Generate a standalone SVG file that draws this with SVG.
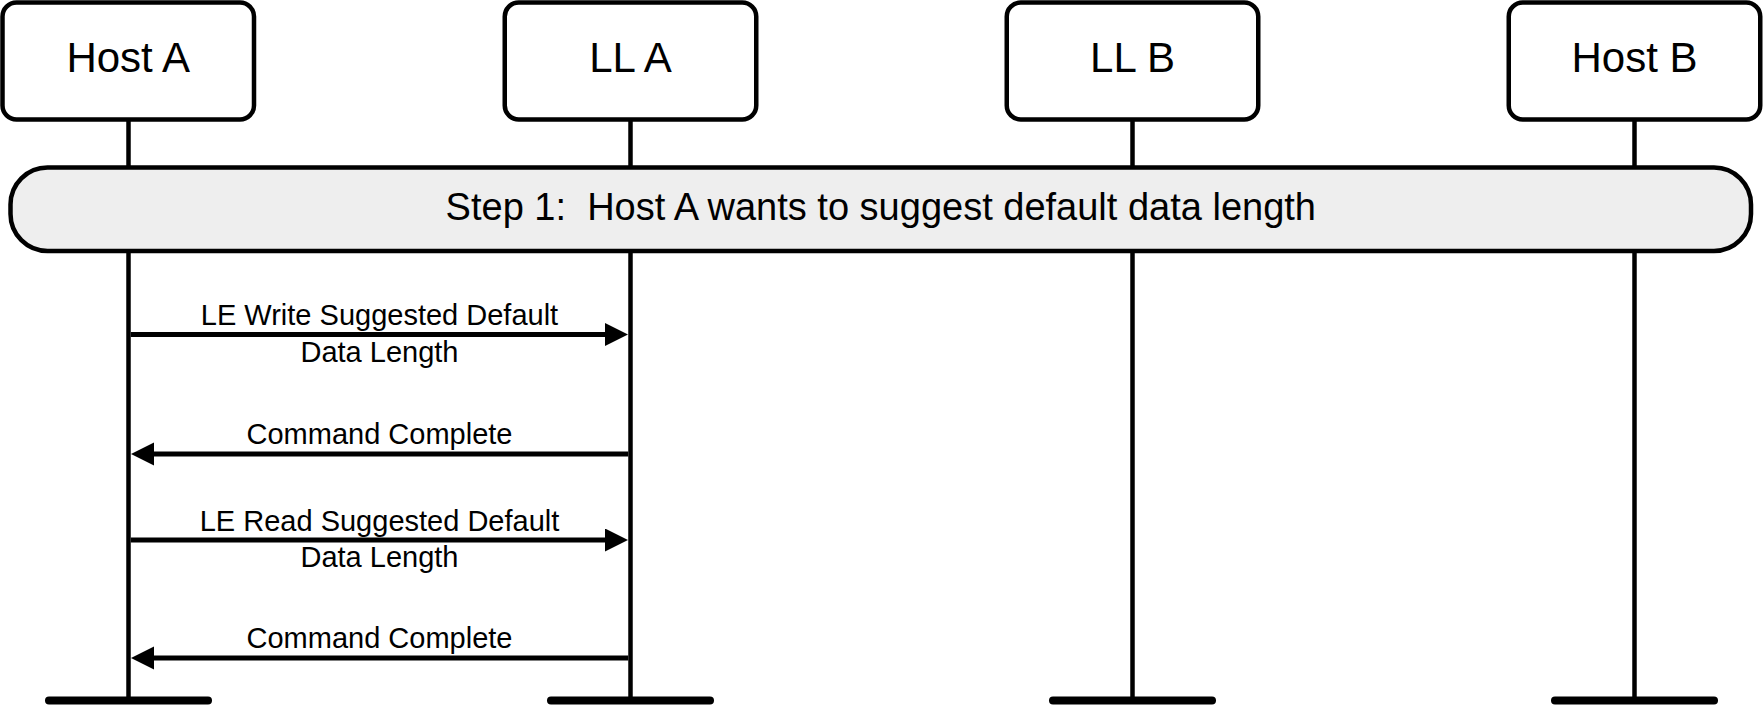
<svg xmlns="http://www.w3.org/2000/svg" width="1763" height="705" viewBox="0 0 1763 705">
<style>
.box{fill:#ffffff;stroke:#000;stroke-width:4.5}
.life{stroke:#000;stroke-width:4.5;fill:none}
.foot{stroke:#000;stroke-width:8;stroke-linecap:round}
.step{fill:#eeeeee;stroke:#000;stroke-width:4.5}
.msg{stroke:#000;stroke-width:5;fill:none}
.lbl{font-family:"Liberation Sans",Arial,sans-serif;font-size:42px;fill:#000;text-anchor:middle}
.stxt{font-family:"Liberation Sans",Arial,sans-serif;font-size:38px;fill:#000;text-anchor:middle}
.mtxt{font-family:"Liberation Sans",Arial,sans-serif;font-size:29px;fill:#000;text-anchor:middle}
</style>
<defs>
<marker id="ah" markerUnits="userSpaceOnUse" markerWidth="24" markerHeight="24" refX="1" refY="11.5" orient="auto">
<path d="M0,0 L23,11.5 L0,23 Z" fill="#000"/>
</marker>
</defs>
<rect width="1763" height="705" fill="#fff"/>
<g id="lifelines">
<line class="life" x1="128.5" y1="119" x2="128.5" y2="700"/>
<line class="life" x1="630.5" y1="119" x2="630.5" y2="700"/>
<line class="life" x1="1132.5" y1="119" x2="1132.5" y2="700"/>
<line class="life" x1="1634.5" y1="119" x2="1634.5" y2="700"/>
<line class="foot" x1="49" y1="700.5" x2="208" y2="700.5"/>
<line class="foot" x1="551" y1="700.5" x2="710" y2="700.5"/>
<line class="foot" x1="1053" y1="700.5" x2="1212" y2="700.5"/>
<line class="foot" x1="1555" y1="700.5" x2="1714" y2="700.5"/>
</g>
<g id="step1">
<rect class="step" x="10.5" y="167.5" width="1740.5" height="83.5" rx="37" ry="37"/>
<text class="stxt" x="880.8" y="219.5" xml:space="preserve">Step 1:  Host A wants to suggest default data length</text>
</g>
<g id="hostA">
<rect class="box" x="2.5" y="2.5" width="251.5" height="117" rx="14" ry="14"/>
<text class="lbl" x="128.25" y="71.5">Host A</text>
</g>
<g id="llA">
<rect class="box" x="504.75" y="2.5" width="251.5" height="117" rx="14" ry="14"/>
<text class="lbl" x="630.5" y="71.5">LL A</text>
</g>
<g id="llB">
<rect class="box" x="1006.75" y="2.5" width="251.5" height="117" rx="14" ry="14"/>
<text class="lbl" x="1132.5" y="71.5">LL B</text>
</g>
<g id="hostB">
<rect class="box" x="1508.75" y="2.5" width="251.5" height="117" rx="14" ry="14"/>
<text class="lbl" x="1634.5" y="71.5">Host B</text>
</g>
<g id="connectors">
<line class="msg" x1="130.75" y1="334.5" x2="606" y2="334.5" marker-end="url(#ah)"/>
<text class="mtxt" x="379.5" y="325">LE Write Suggested Default</text>
<text class="mtxt" x="379.5" y="361.5">Data Length</text>
<line class="msg" x1="628.25" y1="454" x2="153" y2="454" marker-end="url(#ah)"/>
<text class="mtxt" x="379.5" y="444">Command Complete</text>
<line class="msg" x1="130.75" y1="540" x2="606" y2="540" marker-end="url(#ah)"/>
<text class="mtxt" x="379.5" y="530.5">LE Read Suggested Default</text>
<text class="mtxt" x="379.5" y="566.5">Data Length</text>
<line class="msg" x1="628.25" y1="658" x2="153" y2="658" marker-end="url(#ah)"/>
<text class="mtxt" x="379.5" y="648">Command Complete</text>
</g>
</svg>
